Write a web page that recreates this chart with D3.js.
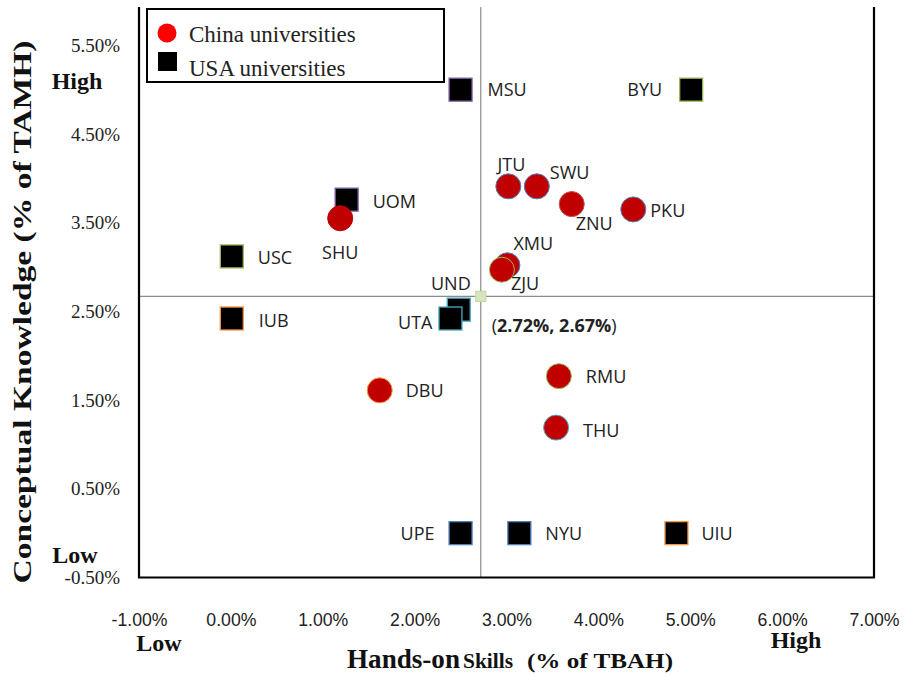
<!DOCTYPE html>
<html><head><meta charset="utf-8">
<script src="https://cdn.jsdelivr.net/npm/d3@7/dist/d3.min.js"></script>
<style>body{margin:0;background:#fff}</style>
</head><body>
<svg id="chart" width="907" height="676"></svg>
<script>
// ---- data ----
const chinaNames = ["SHU","JTU","SWU","ZNU","PKU","XMU","ZJU","DBU","RMU","THU"];
const chinaX     = [1.19, 3.02, 3.33, 3.71, 4.38, 3.01, 2.95, 1.62, 3.57, 3.54];
const chinaY     = [3.55, 3.91, 3.91, 3.71, 3.65, 3.02, 2.97, 1.61, 1.77, 1.19];
const usaNames = ["MSU","BYU","UOM","USC","IUB","UND","UTA","UPE","NYU","UIU"];
const usaX     = [2.50, 5.01, 1.26, 0.01, 0.01, 2.48, 2.39, 2.50, 3.14, 4.85];
const usaY     = [5.00, 5.00, 3.76, 3.12, 2.42, 2.52, 2.42, 0.00, 0.00, 0.00];
const meanX = 2.72, meanY = 2.67;
const xTicks = [-1,0,1,2,3,4,5,6,7];
const yTicks = [-0.5,0.5,1.5,2.5,3.5,4.5,5.5];

// ---- layout (label offsets, in px) ----
const labelPlace = {
  SHU:{dx:0,dy:34,a:"middle"}, JTU:{dx:3,dy:-22,a:"middle"}, SWU:{dx:13,dy:-14,a:"start"},
  ZNU:{dx:4,dy:19,a:"start"}, PKU:{dx:17,dy:1,a:"start"}, XMU:{dx:6,dy:-22,a:"start"},
  ZJU:{dx:9,dy:14,a:"start"}, DBU:{dx:26,dy:0,a:"start"}, RMU:{dx:27,dy:0,a:"start"},
  THU:{dx:27,dy:3,a:"start"},
  MSU:{dx:27,dy:0,a:"start"}, BYU:{dx:-29,dy:0,a:"end"}, UOM:{dx:26,dy:2,a:"start"},
  USC:{dx:26,dy:1,a:"start"}, IUB:{dx:27,dy:2,a:"start"}, UND:{dx:12,dy:-26,a:"end"},
  UTA:{dx:-18,dy:4,a:"end"}, UPE:{dx:-26,dy:0,a:"end"}, NYU:{dx:26,dy:0,a:"start"},
  UIU:{dx:25,dy:0,a:"start"}
};
const chinaStroke = ["#C00000","#4F81BD","#4F81BD","#C0504D","#4F81BD","#4F81BD","#9BBB59","#F79646","#9BBB59","#4BACC6"];
const usaStroke   = ["#8064A2","#9BBB59","#8064A2","#9BBB59","#F79646","#4BACC6","#4BACC6","#4F81BD","#4F81BD","#F79646"];

const svg = d3.select("#chart");
const L=139, R=874, T=7, B=577.5;
const x = d3.scaleLinear().domain([-1,7]).range([L,R]);
const y = d3.scaleLinear().domain([-0.5,5.932]).range([B,T]);
const fmt = d => d.toFixed(2)+"%";

// reference lines
svg.append("line").attr("x1",x(meanX)).attr("x2",x(meanX)).attr("y1",T).attr("y2",B)
  .attr("stroke","#8c8c8c").attr("stroke-width",1.2);
svg.append("line").attr("x1",L).attr("x2",R).attr("y1",y(meanY)).attr("y2",y(meanY))
  .attr("stroke","#8c8c8c").attr("stroke-width",1.2);

// frame (left, bottom, right)
svg.append("path").attr("d",`M${L},${T}V${B}H${R}V${T}`).attr("fill","none")
  .attr("stroke","#000").attr("stroke-width",2.2);

// axes tick labels
const xAxis = d3.axisBottom(x).tickValues(xTicks).tickFormat(fmt).tickSize(0).tickPadding(0);
const gx = svg.append("g").attr("transform",`translate(0,${B})`).call(xAxis);
gx.select(".domain").remove();
gx.selectAll("text").attr("dy",null).attr("y",48)
  .style("font-family","'Liberation Sans',Arial,sans-serif").style("font-size","19px").attr("fill","#222")
  .each(function(){ const w=this.getComputedTextLength(); d3.select(this).attr("textLength",w*0.93).attr("lengthAdjust","spacingAndGlyphs"); });

const yAxis = d3.axisLeft(y).tickValues(yTicks).tickFormat(fmt).tickSize(0).tickPadding(19);
const gy = svg.append("g").attr("transform",`translate(${L},0)`).call(yAxis);
gy.select(".domain").remove();
gy.selectAll("text").style("font-family","'Liberation Serif','Times New Roman',serif")
  .style("font-size","19px").attr("fill","#222");

// points
const china = chinaNames.map((n,i)=>({n,x:chinaX[i],y:chinaY[i],s:chinaStroke[i]}));
const usa = usaNames.map((n,i)=>({n,x:usaX[i],y:usaY[i],s:usaStroke[i]}));
const sq = 23;
svg.append("g").selectAll("rect").data(usa).join("rect")
  .attr("x",d=>x(d.x)-sq/2).attr("y",d=>y(d.y)-sq/2).attr("width",sq).attr("height",sq)
  .attr("fill","#000").attr("stroke",d=>d.s).attr("stroke-width",1.3);
svg.append("g").selectAll("circle").data(china).join("circle")
  .attr("cx",d=>x(d.x)).attr("cy",d=>y(d.y)).attr("r",12.5)
  .attr("fill","#C00000").attr("stroke",d=>d.s).attr("stroke-width",1);

// mean diamond
svg.append("path").attr("d",d3.symbol(d3.symbolDiamond2,130)())
  .attr("transform",`translate(${x(meanX)},${y(meanY)}) rotate(45)`)
  .attr("fill","#D7E4BD").attr("stroke","#C3D69B");

// labels
const lab = svg.append("g").style("font-family","'Open Sans',sans-serif").style("font-size","18px").attr("fill","#222");
[...china,...usa].forEach(d=>{
  const p = labelPlace[d.n];
  lab.append("text").attr("x",x(d.x)+p.dx).attr("y",y(d.y)+p.dy).attr("dy","0.36em")
    .attr("text-anchor",p.a).text(d.n);
});
const mt = lab.append("text").attr("x",x(meanX)+11).attr("y",y(meanY)+29).attr("dy","0.36em");
mt.append("tspan").text("(");
mt.append("tspan").attr("font-weight","bold").text(fmt(meanX)+", "+fmt(meanY));
mt.append("tspan").text(")");

// legend
const lg = svg.append("g");
lg.append("rect").attr("x",147).attr("y",9).attr("width",297).attr("height",73)
  .attr("fill","#fff").attr("stroke","#000").attr("stroke-width",2);
lg.append("circle").attr("cx",167).attr("cy",33).attr("r",9.5).attr("fill","#f00");
lg.append("rect").attr("x",158).attr("y",52).attr("width",19).attr("height",19).attr("fill","#000");
lg.selectAll("text.l").data(["China universities","USA universities"]).join("text")
  .attr("x",189).attr("y",(d,i)=>42+i*34)
  .style("font-family","'Liberation Serif','Times New Roman',serif").style("font-size","23px").attr("fill","#222")
  .text(d=>d);

// axis titles and High/Low
const serifB = s => s.style("font-family","'Liberation Serif','Times New Roman',serif").style("font-weight","bold").attr("fill","#111");
serifB(svg.append("text").attr("x",77).attr("y",89).attr("text-anchor","middle").style("font-size","24px").text("High"));
serifB(svg.append("text").attr("x",75).attr("y",563).attr("text-anchor","middle").style("font-size","24px").text("Low"));
serifB(svg.append("text").attr("x",159).attr("y",651).attr("text-anchor","middle").style("font-size","24px").text("Low"));
serifB(svg.append("text").attr("x",796).attr("y",648).attr("text-anchor","middle").style("font-size","24px").text("High"));
serifB(svg.append("text").attr("transform","translate(31,312) rotate(-90)").attr("text-anchor","middle")
  .attr("textLength",543).attr("lengthAdjust","spacingAndGlyphs").style("font-size","26px")
  .text("Conceptual Knowledge (% of TAMH)"));
const xt = serifB(svg.append("text").attr("x",347).attr("y",668));
xt.append("tspan").style("font-size","28px").attr("textLength",113).attr("lengthAdjust","spacingAndGlyphs").text("Hands-on");
xt.append("tspan").style("font-size","22px").attr("dx",3).attr("textLength",50).attr("lengthAdjust","spacingAndGlyphs").text("Skills");
xt.append("tspan").style("font-size","22px").attr("dx",14).attr("textLength",146).attr("lengthAdjust","spacingAndGlyphs").text("(% of  TBAH)");
</script>
</body></html>
